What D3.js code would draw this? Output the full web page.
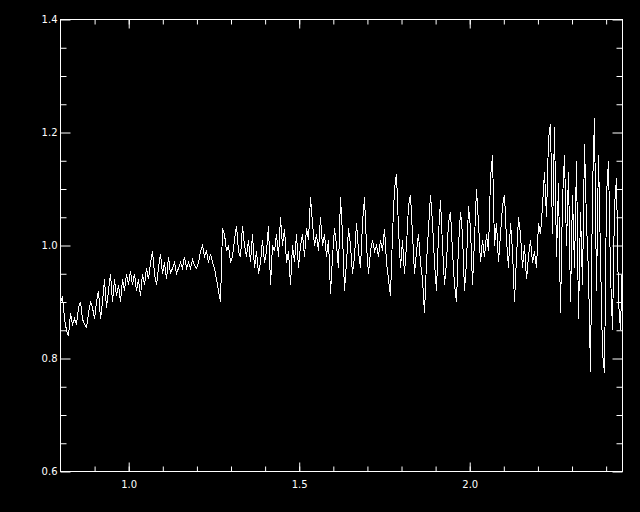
<!DOCTYPE html>
<html>
<head>
<meta charset="utf-8">
<script src="https://cdn.jsdelivr.net/npm/d3@7"></script>
<style>
  html, body { margin: 0; padding: 0; background: #000; }
  svg { display: block; }
  .tick text { font-family: "DejaVu Sans", sans-serif; font-size: 10px; fill: #fff; }
</style>
</head>
<body>
<svg id="chart" width="640" height="512"></svg>
<script>
// sampling grid of the spectrum (wavelength)
const xStart = 0.8, xStep = 1.648 / 281;

// flux left to right
const flux = [
    0.90, 0.91, 0.87, 0.85, 0.84, 0.88, 0.86, 0.87, 0.86, 0.89,
    0.90, 0.87, 0.86, 0.855, 0.88, 0.90, 0.89, 0.87, 0.90, 0.92,
    0.87, 0.90, 0.94, 0.89, 0.92, 0.95, 0.90, 0.94, 0.91, 0.93,
    0.90, 0.94, 0.92, 0.95, 0.93, 0.955, 0.93, 0.95, 0.92, 0.94,
    0.91, 0.95, 0.93, 0.96, 0.94, 0.97, 0.99, 0.95, 0.93, 0.96,
    0.985, 0.95, 0.97, 0.94, 0.98, 0.95, 0.96, 0.97, 0.95, 0.96,
    0.97, 0.96, 0.98, 0.96, 0.97, 0.96, 0.975, 0.965, 0.96, 0.97,
    0.99, 1.00, 0.98, 0.99, 0.97, 0.985, 0.97, 0.96, 0.94, 0.92,
    0.90, 1.03, 1.02, 0.99, 1.00, 0.97, 0.98, 1.01, 1.035, 0.99,
    0.98, 1.035, 1.00, 0.98, 1.01, 0.97, 1.02, 0.96, 0.99, 0.95,
    0.97, 1.01, 0.97, 0.99, 1.035, 0.93, 1.00, 0.99, 1.02, 0.98,
    1.05, 1.00, 1.03, 0.97, 0.99, 0.93, 1.00, 0.97, 1.02, 0.96,
    1.00, 1.02, 0.98, 1.03, 1.01, 1.085, 1.04, 1.00, 1.02, 0.99,
    1.05, 1.00, 1.02, 0.98, 1.01, 0.915, 0.98, 1.03, 1.00, 0.96,
    1.085, 1.02, 0.92, 0.97, 1.03, 1.00, 0.95, 0.98, 1.04, 0.99,
    0.96, 1.04, 1.085, 1.00, 0.95, 0.99, 1.01, 0.99, 1.00, 0.98,
    1.01, 0.99, 1.03, 0.97, 0.94, 0.91, 1.02, 1.10, 1.127, 1.03,
    0.96, 1.01, 0.95, 1.00, 1.07, 1.09, 1.02, 0.95, 0.99, 1.02,
    0.97, 0.94, 0.88, 0.97, 1.03, 1.09, 1.04, 0.97, 0.92, 1.02,
    1.08, 1.00, 0.93, 0.97, 1.04, 1.06, 0.99, 0.93, 0.90, 1.00,
    1.06, 1.02, 0.92, 0.97, 1.07, 1.03, 0.93, 1.01, 1.10, 1.04,
    0.97, 1.01, 0.98, 1.02, 0.99, 1.12, 1.16, 1.00, 1.04, 0.97,
    1.02, 1.07, 1.09, 1.01, 0.96, 1.04, 0.99, 0.90, 0.98, 1.05,
    1.02, 0.96, 1.00, 0.94, 0.98, 1.01, 0.97, 0.99, 0.96, 1.04,
    1.02, 1.07, 1.13, 1.05, 1.19, 1.215, 1.02, 1.21, 0.98, 1.11,
    0.88, 1.08, 1.16, 1.00, 1.13, 0.90, 1.09, 0.96, 1.15, 0.87,
    1.06, 0.93, 1.18, 1.04, 0.95, 0.777, 1.10, 1.226, 0.92, 1.16,
    0.98, 0.81, 0.775, 1.09, 1.15, 0.95, 0.85, 1.07, 1.12, 0.90,
    0.85, 0.98
];

const xMajorTicks = [1.0, 1.5, 2.0];
const xMinorTicks = [0.9, 1.0, 1.1, 1.2, 1.3, 1.4, 1.5, 1.6, 1.7, 1.8, 1.9, 2.0, 2.1, 2.2, 2.3, 2.4];
const yMajorTicks = [0.6, 0.8, 1.0, 1.2, 1.4];
const yMinorTicks = [0.65, 0.7, 0.75, 0.85, 0.9, 0.95, 1.05, 1.1, 1.15, 1.25, 1.3, 1.35];

const svg = d3.select("#chart"),
    plotLeft = 60, plotRight = 622, plotTop = 19, plotBottom = 471;

svg.append("rect").attr("width", 640).attr("height", 512).attr("fill", "#000");

const x = d3.scaleLinear().domain([0.8, 2.448]).range([plotLeft, plotRight]);
const y = d3.scaleLinear().domain([0.6, 1.4]).range([plotBottom, plotTop]);

const g = svg.append("g").attr("transform", "translate(0.5,0.5)");

g.append("clipPath").attr("id", "plotArea")
    .append("rect")
    .attr("x", plotLeft).attr("y", plotTop)
    .attr("width", plotRight - plotLeft).attr("height", plotBottom - plotTop);

// spectrum
const points = flux.map((v, i) => [xStart + i * xStep, v]);
g.append("path")
    .datum(points)
    .attr("clip-path", "url(#plotArea)")
    .attr("fill", "none")
    .attr("stroke", "#fff")
    .attr("stroke-width", 1)
    .attr("shape-rendering", "crispEdges")
    .attr("d", d3.line().x(d => x(d[0])).y(d => y(d[1])));

// axes: ticks point inward on all four sides
function addAxis(axis, tx, ty) {
    const a = g.append("g").attr("transform", `translate(${tx},${ty})`).call(axis);
    a.select(".domain").remove();
    a.selectAll("line").attr("stroke", "#fff");
    return a;
}

addAxis(d3.axisBottom(x).tickValues(xMinorTicks).tickSize(-5).tickFormat(""), 0, plotBottom);
addAxis(d3.axisBottom(x).tickValues(xMajorTicks).tickSize(-9).tickPadding(9).tickFormat(d3.format(".1f")), 0, plotBottom);
addAxis(d3.axisTop(x).tickValues(xMinorTicks).tickSize(-5).tickFormat(""), 0, plotTop);
addAxis(d3.axisTop(x).tickValues(xMajorTicks).tickSize(-9).tickFormat(""), 0, plotTop);

addAxis(d3.axisLeft(y).tickValues(yMinorTicks).tickSize(-6).tickFormat(""), plotLeft, 0);
addAxis(d3.axisLeft(y).tickValues(yMajorTicks).tickSize(-10).tickPadding(3).tickFormat(d3.format(".1f")), plotLeft, 0);
addAxis(d3.axisRight(y).tickValues(yMinorTicks).tickSize(-6).tickFormat(""), plotRight, 0);
addAxis(d3.axisRight(y).tickValues(yMajorTicks).tickSize(-10).tickFormat(""), plotRight, 0);

// frame
g.append("rect")
    .attr("x", plotLeft).attr("y", plotTop)
    .attr("width", plotRight - plotLeft).attr("height", plotBottom - plotTop)
    .attr("fill", "none")
    .attr("stroke", "#fff")
    .attr("shape-rendering", "crispEdges");
</script>
</body>
</html>
